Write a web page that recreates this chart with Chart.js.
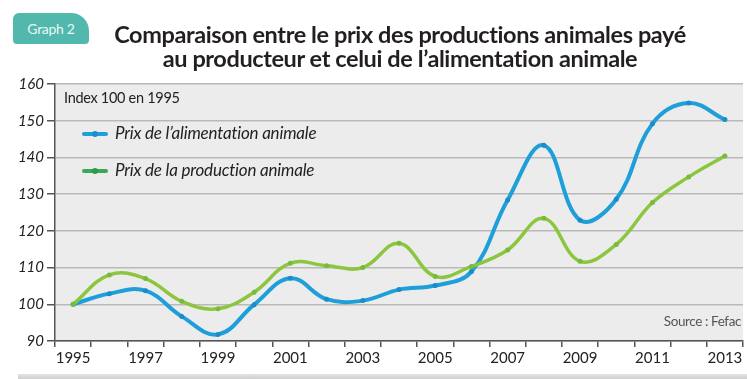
<!DOCTYPE html>
<html>
<head>
<meta charset="utf-8">
<script src="https://cdn.jsdelivr.net/npm/chart.js@4/dist/chart.umd.min.js"></script>
<style>
  html, body { margin: 0; padding: 0; background: #fff; }
  #wrap { position: relative; width: 747px; height: 379px; overflow: hidden; font-family: Lato, 'Open Sans', sans-serif; }
  #shadow { position: absolute; left: 18px; right: 0; top: 374px; height: 5px; background: linear-gradient(#e4e4e4, #cfcfcf); }
  canvas { position: absolute; left: 0; top: 0; }
  #badge { position: absolute; left: 13px; top: 13px; width: 76px; height: 31px; background: #52b8ad; color: #e9f7f5;
    border-radius: 6px 18px 4px 4px; font-size: 14px; line-height: 31px; text-align: center; letter-spacing: -0.3px; }
  #title { position: absolute; left: 80px; width: 640px; top: 22px; text-align: center; font-weight: bold; font-size: 23.5px;
    line-height: 24px; color: #231f20; letter-spacing: -0.4px; }
  #index { position: absolute; left: 64px; top: 89px; font-size: 14.5px; color: #222; letter-spacing: -0.3px; }
  #source { position: absolute; right: 6px; top: 313px; font-size: 13.5px; color: #555; letter-spacing: -0.4px; }
  .leg { position: absolute; left: 82px; font-size: 17px; font-style: italic; color: #222; height: 20px; line-height: 20px; letter-spacing: -0.2px; }
  .leg i { position: absolute; left: 0; top: 9px; width: 26px; height: 4px; border-radius: 2px; }
  .leg b { position: absolute; left: 10px; top: 8px; width: 6px; height: 6px; border-radius: 50%; }
  .leg span { margin-left: 33px; }
</style>
</head>
<body>
<div id="wrap">
  <div id="shadow"></div>
  <canvas id="chart" width="747" height="379"></canvas>
  <div id="badge">Graph 2</div>
  <div id="title">Comparaison entre le prix des productions animales payé<br>au producteur et celui de l’alimentation animale</div>
  <div id="index">Index 100 en 1995</div>
  <div class="leg" style="top:123px"><i style="background:#1e9fda"></i><b style="background:#1b8fcc"></b><span>Prix de l’alimentation animale</span></div>
  <div class="leg" style="top:160px"><i style="background:#3aa956"></i><b style="background:#2f9a4a"></b><span>Prix de la production animale</span></div>
  <div id="source">Source : Fefac</div>
</div>
<script>
const years = ['1995', '1996', '1997', '1998', '1999', '2000', '2001', '2002', '2003', '2004',
  '2005', '2006', '2007', '2008', '2009', '2010', '2011', '2012', '2013']
const feedLabel = 'Prix de l’alimentation animale'
const feedPrice = [100, 102.9, 103.7, 96.7, 91.8, 99.9, 107.1, 101.4, 101, 104,
  105.1, 108.9, 128.4, 143.3, 122.9, 128.6, 149.2, 154.8, 150.3]
const prodLabel = 'Prix de la production animale'
const prodPrice = [100, 108, 107, 100.8, 98.8, 103.3, 111.2, 110.5, 110, 116.6,
  107.6, 110.3, 114.8, 123.4, 111.7, 116.3, 127.7, 134.7, 140.4]
const yTicks = [90, 100, 110, 120, 130, 140, 150, 160]

// fond gris de la zone de tracé
const plotBg = {
  id: 'plotBg',
  beforeDraw: chart => {
    const { ctx, chartArea: a } = chart
    ctx.save()
    ctx.fillStyle = '#ececec'
    ctx.fillRect(a.left, a.top, a.right - a.left, a.bottom - a.top)
    ctx.restore()
  }
}

const ds = (label, data, color, pointColor, width) => ({
  label: label,
  data: data,
  borderColor: color,
  backgroundColor: pointColor,
  pointBackgroundColor: pointColor,
  pointBorderColor: pointColor,
  borderWidth: width,
  pointRadius: 2.5,
  pointBorderWidth: 0,
  tension: 0.4,
  fill: false
})

new Chart(document.getElementById('chart').getContext('2d'), {
  type: 'line',
  data: {
    labels: years,
    datasets: [
      ds(prodLabel, prodPrice, '#8cc63f', '#78bb3c', 3.5),
      ds(feedLabel, feedPrice, '#1e9fda', '#1a8cc8', 4)
    ]
  },
  options: {
    responsive: false,
    animation: false,
    layout: { padding: { top: 84, left: 0, right: 0, bottom: 8 } },
    plugins: { legend: { display: false }, tooltip: { enabled: false } },
    scales: {
      x: {
        offset: true,
        afterFit: s => { s.height = 30 },
        border: { display: true, color: '#555', width: 1.5 },
        grid: { offset: true, drawOnChartArea: false, drawTicks: true, tickLength: 6, color: '#555', lineWidth: 1.5 },
        ticks: {
          autoSkip: false, maxRotation: 0, padding: 2, color: '#222',
          font: { family: 'Lato', size: 15 },
          callback: (v, i) => i % 2 === 0 ? years[i] : ''
        }
      },
      y: {
        min: 90, max: 160,
        afterFit: s => { s.width = 55 },
        afterBuildTicks: s => { s.ticks = yTicks.map(v => ({ value: v })) },
        border: { display: true, color: '#555', width: 1.5 },
        grid: { color: '#b9b9b9', lineWidth: 1.5, tickLength: 8, tickColor: '#555' },
        ticks: { padding: 3, color: '#222', font: { family: 'Lato', size: 15, style: 'italic' } }
      }
    }
  },
  plugins: [plotBg]
})
</script>
</body>
</html>
